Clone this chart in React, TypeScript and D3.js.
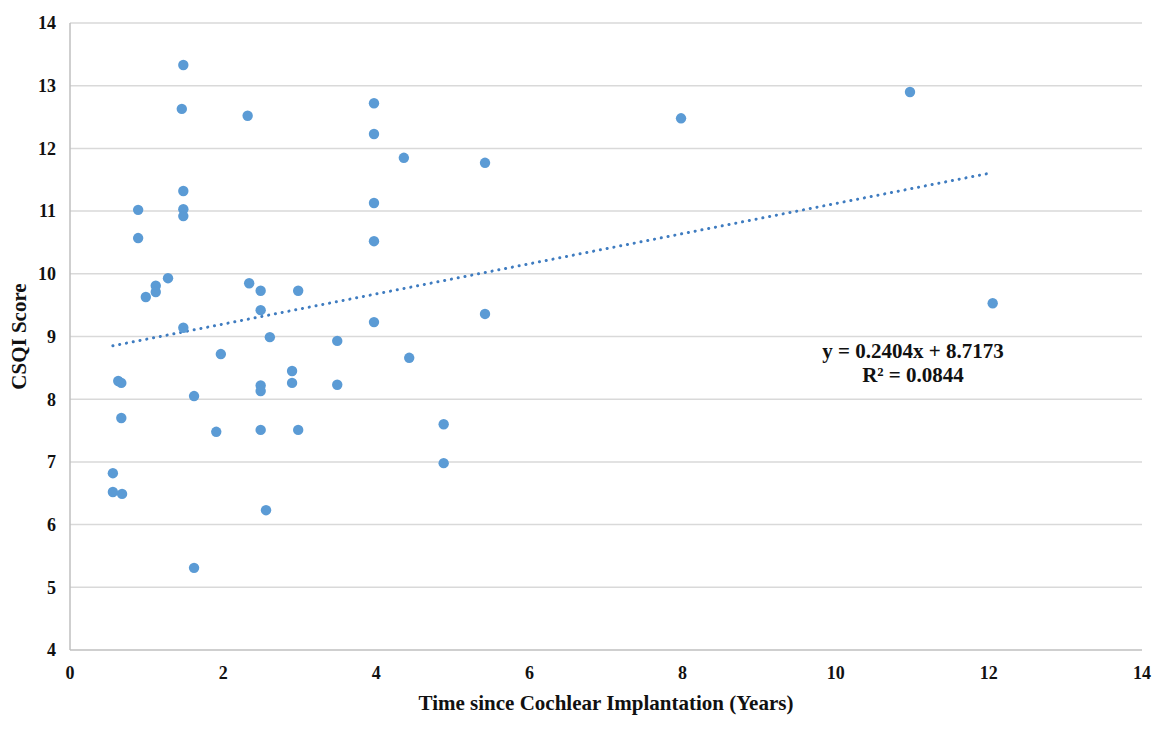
import React from 'react';
import * as d3 from 'd3';

// Time since implantation (years) and CSQI score for each participant
const years = [
  1.48, 1.46, 2.32, 1.48, 0.89, 1.48, 1.48, 0.89, 1.28, 1.12,
  1.12, 0.99, 1.48, 2.34, 2.49, 2.98, 2.49, 2.61, 1.97, 0.63,
  0.67, 0.67, 1.62, 1.91, 2.49, 2.49, 2.90, 2.90, 3.49, 3.49,
  2.49, 2.98, 0.56, 0.56, 0.68, 2.56, 1.62, 3.97, 3.97, 3.97,
  3.97, 3.97, 4.36, 4.43, 5.42, 5.42, 4.88, 4.88, 7.98, 10.97,
  12.05,
];
const scores = [
  13.33, 12.63, 12.52, 11.32, 11.02, 11.03, 10.92, 10.57, 9.93, 9.81,
  9.71, 9.63, 9.14, 9.85, 9.73, 9.73, 9.42, 8.99, 8.72, 8.29,
  8.26, 7.70, 8.05, 7.48, 8.22, 8.13, 8.45, 8.26, 8.23, 8.93,
  7.51, 7.51, 6.82, 6.52, 6.49, 6.23, 5.31, 12.72, 12.23, 11.13,
  10.52, 9.23, 11.85, 8.66, 11.77, 9.36, 7.60, 6.98, 12.48, 12.90,
  9.53,
];
const xTicks = [0, 2, 4, 6, 8, 10, 12, 14];
const yTicks = [4, 5, 6, 7, 8, 9, 10, 11, 12, 13, 14];
const slope = 0.2404;
const intercept = 8.7173;
const equationLines = ['y = 0.2404x + 8.7173', 'R² = 0.0844'];

const width = 1170;
const height = 729;
const font = '"Liberation Serif", "Times New Roman", serif';

const App: React.FC = () => {
  const x = d3.scaleLinear().domain([0, 14]).range([70, 1142]);
  const y = d3.scaleLinear().domain([4, 14]).range([650, 23]);

  const xMin = d3.min(years) as number;
  const xMax = d3.max(years) as number;
  const trend = d3.line<number>()
    .x(d => x(d))
    .y(d => y(slope * d + intercept));

  return (
    <svg width={width} height={height} style={{ display: 'block', margin: -8 }}>
      <rect width={width} height={height} fill="#fff" />
      {yTicks.map(t => (
        <g key={t}>
          <line x1={x(0)} x2={x(14)} y1={y(t)} y2={y(t)}
            stroke={t === 4 ? '#bfbfbf' : '#d9d9d9'} strokeWidth={1.5} />
          <text x={56} y={y(t)} dy="0.35em" textAnchor="end"
            fontFamily={font} fontWeight="bold" fontSize={18} fill="#111">{t}</text>
        </g>
      ))}
      <line x1={x(0)} x2={x(0)} y1={y(4)} y2={y(14)} stroke="#bfbfbf" strokeWidth={1.5} />
      {xTicks.map(t => (
        <text key={t} x={x(t)} y={679} textAnchor="middle"
          fontFamily={font} fontWeight="bold" fontSize={18} fill="#111">{t}</text>
      ))}
      <path d={trend([xMin, xMax]) || undefined} fill="none" stroke="#3f7cc0"
        strokeWidth={3} strokeDasharray="0.1 6.8" strokeLinecap="round" />
      {years.map((v, i) => (
        <circle key={i} cx={x(v)} cy={y(scores[i])} r={5.2} fill="#5b9bd5" />
      ))}
      {equationLines.map((s, i) => (
        <text key={s} x={913} y={358 + i * 24} textAnchor="middle"
          fontFamily={font} fontWeight="bold" fontSize={21} fill="#111">{s}</text>
      ))}
      <text x={606} y={710} textAnchor="middle" fontFamily={font} fontWeight="bold"
        fontSize={21} fill="#111">Time since Cochlear Implantation (Years)</text>
      <text transform={`translate(26,${(y(4) + y(14)) / 2}) rotate(-90)`} textAnchor="middle"
        fontFamily={font} fontWeight="bold" fontSize={21} fill="#111">CSQI Score</text>
    </svg>
  );
};

export default App;
